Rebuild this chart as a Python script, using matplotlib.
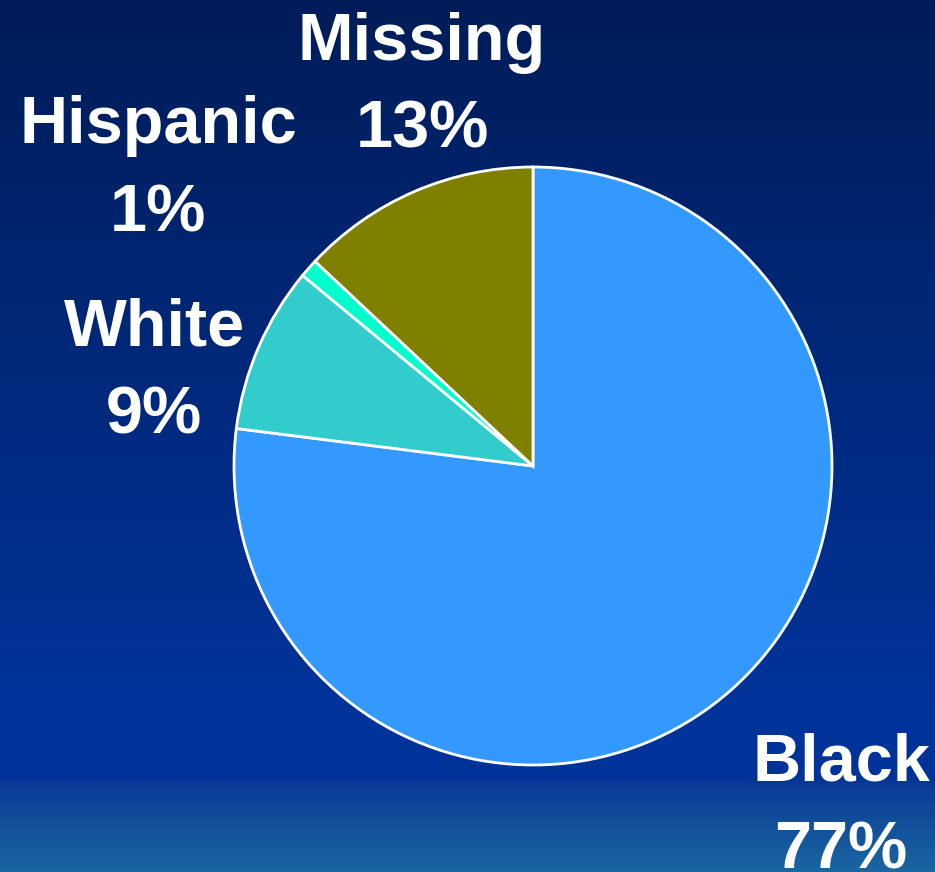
import numpy as np
import matplotlib.pyplot as plt
from matplotlib.colors import LinearSegmentedColormap

# group shares in percent, clockwise from 12 o'clock
groups = ["Black", "White", "Hispanic", "Missing"]
shares = [77, 9, 1, 13]
colors = ["#3399ff", "#33cccc", "#00ffcc", "#808000"]

W, H = 935, 872
fig = plt.figure(figsize=(W / 100, H / 100), dpi=100)

# slide-style background: navy fading to blue, lighter band at the foot
bg = fig.add_axes([0, 0, 1, 1])
bg.set_axis_off()
stops = [(0.0, "#001c58"), (0.80, "#003399"), (0.895, "#003399"),
         (0.90, "#0a3a96"), (1.0, "#1a66a0")]
cmap = LinearSegmentedColormap.from_list("slide", stops)
grad = np.linspace(0, 1, 512).reshape(-1, 1)
bg.imshow(grad, cmap=cmap, aspect="auto", extent=[0, 1, 0, 1], origin="upper")
bg.set_xlim(0, 1)
bg.set_ylim(0, 1)

# pie centred at (533, 466) px with a 299 px radius
cx, cy, r = 533, 466, 299
ax = fig.add_axes([(cx - r) / W, (H - cy - r) / H, 2 * r / W, 2 * r / H])
ax.pie(shares, colors=colors, startangle=90, counterclock=False,
       wedgeprops=dict(edgecolor="white", linewidth=2))
ax.set_xlim(-1, 1)
ax.set_ylim(-1, 1)
ax.set_axis_off()

# labels: (x centre px, first baseline px)
label_pos = {
    "Black": (841, 780),
    "White": (154, 345),
    "Hispanic": (158, 143),
    "Missing": (422, 60),
}
for name, pct in zip(groups, shares):
    x, y = label_pos[name]
    for i, line in enumerate([name, f"{pct}%"]):
        fig.text(x / W, 1 - (y + 88 * i) / H, line, ha="center", va="baseline",
                 color="white", fontsize=48, fontweight="bold",
                 family="Liberation Sans")

fig.savefig("out.png", dpi=100)
